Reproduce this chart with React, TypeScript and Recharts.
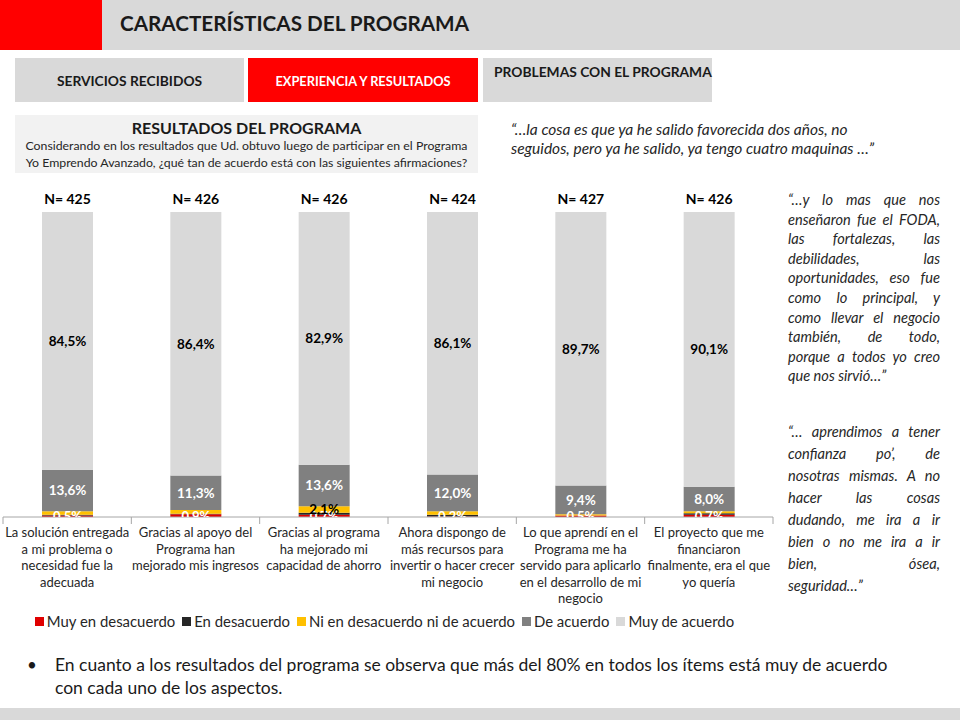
import { Bar, BarChart, LabelList, Legend, XAxis, YAxis } from "recharts";

// Afirmaciones evaluadas (saltos de línea como en la lámina)
const categories = [
  "La solución entregada\na mi problema o\nnecesidad fue la\nadecuada",
  "Gracias al apoyo del\nPrograma han\nmejorado mis ingresos",
  "Gracias al programa\nha mejorado mi\ncapacidad de ahorro",
  "Ahora dispongo de\nmás recursos para\ninvertir o hacer crecer\nmi negocio",
  "Lo que aprendí en el\nPrograma me ha\nservido para aplicarlo\nen el desarrollo de mi\nnegocio",
  "El proyecto que me\nfinanciaron\nfinalmente, era el que\nyo quería",
];
const nValues = [425, 426, 426, 424, 427, 426];

const muyEnDesacuerdo = [0.5, 0.9, 0.7, 0.2, 0.5, 0.7];
const enDesacuerdo = [0.2, 0.2, 0.7, 0.5, 0.0, 0.5];
const niNi = [1.2, 1.2, 2.1, 1.2, 0.4, 0.7];
const deAcuerdo = [13.6, 11.3, 13.6, 12.0, 9.4, 8.0];
const muyDeAcuerdo = [84.5, 86.4, 82.9, 86.1, 89.7, 90.1];

const series = [
  { key: "muyEnDesacuerdo", name: "Muy en desacuerdo", color: "#e00000" },
  { key: "enDesacuerdo", name: "En desacuerdo", color: "#262626" },
  { key: "niNi", name: "Ni en desacuerdo ni de acuerdo", color: "#ffc000" },
  { key: "deAcuerdo", name: "De acuerdo", color: "#808080" },
  { key: "muyDeAcuerdo", name: "Muy de acuerdo", color: "#d9d9d9" },
];

const data = categories.map((name, i) => ({
  name,
  n: nValues[i],
  muyEnDesacuerdo: muyEnDesacuerdo[i],
  enDesacuerdo: enDesacuerdo[i],
  niNi: niNi[i],
  deAcuerdo: deAcuerdo[i],
  muyDeAcuerdo: muyDeAcuerdo[i],
}));

const FONT = "Lato, 'Open Sans', sans-serif";
const CHART_W = 780;
const CHART_H = 451;
const MARGIN = { top: 27, right: 7, left: 3, bottom: 0 };
const BAND = (CHART_W - MARGIN.left - MARGIN.right) / categories.length;

const pct = (v: number) => v.toFixed(1).replace(".", ",") + "%";

function CategoryTick(props: any) {
  const { x, y, payload, index } = props;
  const lines = String(payload.value).split("\n");
  return (
    <g>
      <line x1={x - BAND / 2} x2={x - BAND / 2} y1={y} y2={y + 7} stroke="#a6a6a6" />
      {index === categories.length - 1 && (
        <line x1={x + BAND / 2} x2={x + BAND / 2} y1={y} y2={y + 7} stroke="#a6a6a6" />
      )}
      <text textAnchor="middle" fontSize={13} fill="#262626" fontFamily={FONT}>
        {lines.map((l, i) => (
          <tspan key={i} x={x} y={y + 20 + i * 16.5}>
            {l}
          </tspan>
        ))}
      </text>
    </g>
  );
}

// etiqueta del segmento inferior, recortada en el eje como en el original
function BottomLabel(props: any) {
  const { x, y, width, height, value, index } = props;
  const bottom = y + height;
  const id = `clip-red-${index}`;
  return (
    <g>
      <defs>
        <clipPath id={id}>
          <rect x={x - 10} y={bottom - 20} width={width + 20} height={20} />
        </clipPath>
      </defs>
      <text
        x={x + width / 2}
        y={bottom + 4}
        textAnchor="middle"
        fontSize={13}
        fontWeight={700}
        fill="#ffffff"
        fontFamily={FONT}
        clipPath={`url(#${id})`}
      >
        {pct(value)}
      </text>
    </g>
  );
}

function NiLabel(props: any) {
  const { x, y, width, height, value } = props;
  if (value < 2) return null;
  return (
    <text
      x={x + width / 2}
      y={y + height / 2 + 4}
      textAnchor="middle"
      fontSize={13.5}
      fontWeight={700}
      fill="#000"
      fontFamily={FONT}
    >
      {pct(value)}
    </text>
  );
}

function NLabel(props: any) {
  const { x, y, width, index } = props;
  return (
    <text x={x + width / 2} y={y - 8} textAnchor="middle" fontSize={14} fontWeight={700} fill="#000" fontFamily={FONT}>
      {"N= " + nValues[index]}
    </text>
  );
}

function LegendContent() {
  return (
    <div style={{ display: "flex", justifyContent: "center", fontSize: 14.9, color: "#262626", fontFamily: FONT, height: 24, alignItems: "center", paddingBottom: 6, boxSizing: "border-box" }}>
      {series.map((s) => (
        <span key={s.key} style={{ display: "inline-flex", alignItems: "center", marginRight: 7 }}>
          <span style={{ width: 9, height: 9, background: s.color, display: "inline-block", marginRight: 3 }} />
          {s.name}
        </span>
      ))}
    </div>
  );
}

const rightQuote1 = [
  "“…y lo mas que nos",
  "enseñaron fue el FODA,",
  "las fortalezas, las",
  "debilidades, las",
  "oportunidades, eso fue",
  "como lo principal, y",
  "como llevar el negocio",
  "también, de todo,",
  "porque a todos yo creo",
  "que nos sirvió…”",
];
const rightQuote2 = [
  "“… aprendimos a tener",
  "confianza po’, de",
  "nosotras mismas. A no",
  "hacer las cosas",
  "dudando, me ira a ir",
  "bien o no me ira a ir",
  "bien, ósea,",
  "seguridad…”",
];

function Justified({ lines, lineHeight }: { lines: string[]; lineHeight: number }) {
  return (
    <div>
      {lines.map((l, i) => (
        <div
          key={i}
          style={{
            height: lineHeight,
            lineHeight: lineHeight + "px",
            textAlign: "justify",
            textAlignLast: i === lines.length - 1 ? "left" : "justify",
            whiteSpace: "nowrap",
          }}
        >
          {l}
        </div>
      ))}
    </div>
  );
}

export default function App() {
  return (
    <div style={{ position: "absolute", left: 0, top: 0, width: 960, height: 720, background: "#fff", fontFamily: FONT, overflow: "hidden" }}>
      {/* cabecera */}
      <div style={{ position: "absolute", left: 0, top: 0, width: 960, height: 50, background: "#d9d9d9" }} />
      <div style={{ position: "absolute", left: 0, top: 0, width: 102, height: 50, background: "#ff0000" }} />
      <div style={{ position: "absolute", left: 120, top: 11, fontSize: 20.7, fontWeight: 700, color: "#1a1a1a" }}>
        CARACTERÍSTICAS DEL PROGRAMA
      </div>

      {/* pestañas */}
      <div style={{ position: "absolute", left: 15, top: 58, width: 229, height: 44, background: "#d9d9d9", display: "flex", alignItems: "center", justifyContent: "center", fontSize: 13.8, fontWeight: 700, color: "#1a1a1a" }}>
        SERVICIOS RECIBIDOS
      </div>
      <div style={{ position: "absolute", left: 248, top: 58, width: 230, height: 44, background: "#ff0000", display: "flex", alignItems: "center", justifyContent: "center", fontSize: 12.8, fontWeight: 700, color: "#fff", paddingTop: 2, boxSizing: "border-box" }}>
        EXPERIENCIA Y RESULTADOS
      </div>
      <div style={{ position: "absolute", left: 483, top: 58, width: 229, height: 44, background: "#d9d9d9", fontSize: 13.8, fontWeight: 700, color: "#1a1a1a", boxSizing: "border-box", paddingLeft: 11, paddingTop: 5 }}>
        PROBLEMAS CON EL PROGRAMA
      </div>

      {/* recuadro de pregunta */}
      <div style={{ position: "absolute", left: 15, top: 115, width: 463, height: 58, background: "#f2f2f2", textAlign: "center", color: "#262626" }}>
        <div style={{ fontSize: 16, fontWeight: 700, marginTop: 3, lineHeight: "19px", color: "#1a1a1a" }}>RESULTADOS DEL PROGRAMA</div>
        <div style={{ fontSize: 12.3, lineHeight: "17px", marginTop: 0, whiteSpace: "nowrap" }}>
          Considerando en los resultados que Ud. obtuvo luego de participar en el Programa
          <br />
          Yo Emprendo Avanzado, ¿qué tan de acuerdo está con las siguientes afirmaciones?
        </div>
      </div>

      <div style={{ position: "absolute", left: 511, top: 120, fontSize: 15.5, fontStyle: "italic", lineHeight: "19px", color: "#262626", whiteSpace: "nowrap" }}>
        “…la cosa es que ya he salido favorecida dos años, no
        <br />
        seguidos, pero ya he salido, ya tengo cuatro maquinas …”
      </div>

      <div style={{ position: "absolute", left: 788, top: 190, width: 152, fontSize: 14.6, fontStyle: "italic", color: "#262626" }}>
        <Justified lines={rightQuote1} lineHeight={19.6} />
      </div>
      <div style={{ position: "absolute", left: 788, top: 421, width: 152, fontSize: 14.6, fontStyle: "italic", color: "#262626" }}>
        <Justified lines={rightQuote2} lineHeight={22} />
      </div>

      {/* gráfico */}
      <div style={{ position: "absolute", left: 0, top: 185 }}>
        <BarChart width={CHART_W} height={CHART_H} data={data} margin={MARGIN} barSize={51}>
          <XAxis
            dataKey="name"
            interval={0}
            height={95}
            tick={<CategoryTick />}
            tickLine={false}
            tickSize={0}
            tickMargin={0}
            axisLine={{ stroke: "#a6a6a6" }}
          />
          <YAxis hide domain={[0, 100]} />
          <Legend verticalAlign="bottom" content={<LegendContent />} wrapperStyle={{ height: 24 }} />
          {series.map((s) => (
            <Bar key={s.key} dataKey={s.key} name={s.name} stackId="a" fill={s.color} isAnimationActive={false}>
              {s.key === "muyEnDesacuerdo" && <LabelList dataKey={s.key} content={<BottomLabel />} />}
              {s.key === "niNi" && <LabelList dataKey={s.key} content={<NiLabel />} />}
              {s.key === "deAcuerdo" && (
                <LabelList dataKey={s.key} position="center" formatter={(v: any) => pct(Number(v))} fill="#fff" fontSize={13.5} fontWeight={700} fontFamily={FONT} />
              )}
              {s.key === "muyDeAcuerdo" && (
                <LabelList dataKey={s.key} position="center" formatter={(v: any) => pct(Number(v))} fill="#000" fontSize={13.5} fontWeight={700} fontFamily={FONT} />
              )}
              {s.key === "muyDeAcuerdo" && <LabelList dataKey={s.key} content={<NLabel />} />}
            </Bar>
          ))}
        </BarChart>
      </div>

      {/* conclusión */}
      <div style={{ position: "absolute", left: 27, top: 653, fontSize: 17, color: "#1a1a1a", lineHeight: "23px" }}>•</div>
      <div style={{ position: "absolute", left: 55, top: 653, width: 900, fontSize: 17.5, color: "#1a1a1a", lineHeight: "23px", whiteSpace: "nowrap" }}>
        En cuanto a los resultados del programa se observa que más del 80% en todos los ítems está muy de acuerdo
        <br />
        con cada uno de los aspectos.
      </div>

      <div style={{ position: "absolute", left: 0, top: 708, width: 960, height: 12, background: "#d9d9d9" }} />
    </div>
  );
}
